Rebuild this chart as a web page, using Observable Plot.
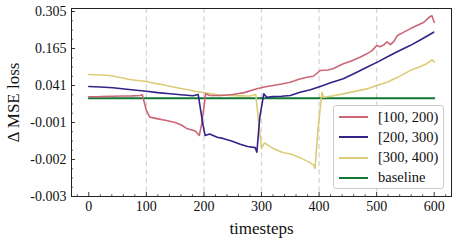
<!DOCTYPE html>
<html>
<head>
<meta charset="utf-8">
<script src="https://cdn.jsdelivr.net/npm/d3@7"></script>
<script src="https://cdn.jsdelivr.net/npm/@observablehq/plot@0.6"></script>
<style>
  body { margin: 0; background: #fff; }
  #wrap { position: relative; width: 457px; height: 242px; font-family: "Liberation Serif", "DejaVu Serif", serif; }
  #wrap svg text { font-family: "Liberation Serif", "DejaVu Serif", serif; }
  #legend { position: absolute; left: 333px; top: 105px; width: 109px; height: 82px;
    border: 1px solid #cccccc; border-radius: 3px; background: rgba(255,255,255,0.85); }
  .row { position: absolute; left: 0; height: 20px; display: flex; align-items: center; }
  .sw { width: 29px; height: 0; border-top: 2px solid; margin-left: 5px; margin-right: 10px; }
  .lbl { font-size: 14.5px; color: #111; white-space: nowrap; font-family: "Liberation Serif", "DejaVu Serif", serif; }
</style>
</head>
<body>
<div id="wrap"><div id="legend"></div></div>
<script>
// ---- data ----
const seriesNames = ["[100, 200)", "[200, 300)", "[300, 400)", "baseline"];
const seriesColors = ["#CC6677", "#332288", "#DDCC77", "#117733"];

const redSteps  = [0, 20, 42, 60, 75, 89, 93, 100, 106, 120, 135, 150, 160, 170, 185, 192, 196, 203, 210, 230, 250, 270, 292, 305, 320, 335, 350, 365, 379, 390, 402, 415, 424, 442, 455, 471, 483, 492, 500, 506, 512, 518, 524, 530, 536, 548, 558, 570, 582, 591, 596, 600];
const redValues = [0.0045, 0.005, 0.0065, 0.007, 0.0075, 0.0087, 0.011, -0.0005, -0.00078, -0.00085, -0.00092, -0.001, -0.00106, -0.00116, -0.00123, -0.00135, -0.00105, 0.0142, 0.0087, 0.0085, 0.012, 0.018, 0.0303, 0.036, 0.041, 0.046, 0.052, 0.062, 0.0688, 0.072, 0.0913, 0.093, 0.097, 0.1137, 0.122, 0.1359, 0.1472, 0.158, 0.1764, 0.172, 0.178, 0.19, 0.18, 0.192, 0.2142, 0.228, 0.2394, 0.252, 0.2644, 0.283, 0.289, 0.264];

const blueSteps  = [0, 20, 42, 70, 100, 120, 141, 160, 181, 190, 198, 202, 210, 223, 233, 248, 263, 276, 289, 292, 297, 304, 309, 320, 335, 350, 367, 385, 402, 420, 442, 462, 483, 503, 523, 540, 558, 578, 599];
const blueValues = [0.0378, 0.036, 0.0336, 0.028, 0.0226, 0.018, 0.0142, 0.011, 0.0077, 0.012, -0.00103, -0.00135, -0.00131, -0.0014, -0.00143, -0.0015, -0.00159, -0.00165, -0.00168, -0.0018, -0.00078, 0.0142, 0.0032, 0.005, 0.0065, 0.0087, 0.0194, 0.027, 0.0378, 0.05, 0.0635, 0.082, 0.1023, 0.121, 0.1415, 0.158, 0.176, 0.2, 0.2267];

const yellowSteps  = [0, 20, 36, 55, 71, 85, 100, 115, 129, 145, 158, 172, 187, 207, 225, 245, 265, 280, 290, 300, 305, 320, 337, 352, 367, 380, 390, 393, 398, 405, 408, 425, 442, 462, 483, 500, 518, 538, 558, 575, 587, 596, 600];
const yellowValues = [0.0779, 0.076, 0.0745, 0.068, 0.0611, 0.058, 0.0544, 0.048, 0.0433, 0.037, 0.0323, 0.027, 0.0216, 0.0161, 0.011, 0.0087, 0.0075, 0.0071, 0.012, -0.0017, -0.00155, -0.0017, -0.00181, -0.00186, -0.00195, -0.00205, -0.00214, -0.00224, -0.0012, 0.019, 0.003, 0.008, 0.014, 0.022, 0.030, 0.041, 0.052, 0.07, 0.091, 0.104, 0.114, 0.127, 0.12];

const baseSteps  = [0, 600];
const baseValues = [0, 0];

const xTicks = [0, 100, 200, 300, 400, 500, 600];
const xMinor = [-20, 20, 40, 60, 80, 120, 140, 160, 180, 220, 240, 260, 280, 320, 340, 360, 380, 420, 440, 460, 480, 520, 540, 560, 580, 620];
const regionMarks = [100, 200, 300, 400, 500];
const yTicks = [-0.003, -0.002, -0.001, 0.041, 0.165, 0.305];
const yTickLabels = ["-0.003", "-0.002", "-0.001", "0.041", "0.165", "0.305"];

// ---- chart ----
const W = 457, H = 242;
const mL = 71, mR = 6, mT = 8, mB = 46;
const frameW = W - mL - mR, frameH = H - mT - mB;
const FONT = "Liberation Serif, DejaVu Serif, serif";

const yOpts = {
  type: "linear",
  domain: [-0.003, -0.002, -0.001, 0, 0.041, 0.165, 0.305],
  range: [196, 159, 122, 97.7, 85, 48, 11]
};
const yScale = Plot.scale({y: yOpts});
const yMinor = [];
const tickPx = yTicks.map(v => yScale.apply(v));
for (let i = 0; i < tickPx.length - 1; i++) {
  for (let k = 1; k < 4; k++) yMinor.push(yScale.invert(tickPx[i] + (tickPx[i+1] - tickPx[i]) * k / 4));
}

const mk = (steps, vals) => steps.map((t, i) => ({t, v: vals[i]}));
const red = mk(redSteps, redValues), blue = mk(blueSteps, blueValues),
      yellow = mk(yellowSteps, yellowValues), base = mk(baseSteps, baseValues);

const labelMap = new Map(yTicks.map((v, i) => [v, yTickLabels[i]]));

const chart = Plot.plot({
  width: W, height: H,
  marginLeft: mL, marginRight: mR, marginTop: mT, marginBottom: mB,
  style: {fontFamily: FONT, fontSize: "14px", color: "#111", background: "#fff"},
  x: {domain: [-30, 630]},
  y: yOpts,
  marks: [
    Plot.ruleX(regionMarks, {x: d => d, stroke: "#d6d6d6", strokeWidth: 1.3, strokeDasharray: "5,3.5"}),
    Plot.line(base, {x: "t", y: "v", stroke: seriesColors[3], strokeWidth: 2}),
    Plot.line(yellow, {x: "t", y: "v", stroke: seriesColors[2], strokeWidth: 1.6}),
    Plot.line(red, {x: "t", y: "v", stroke: seriesColors[0], strokeWidth: 1.6}),
    Plot.line(blue, {x: "t", y: "v", stroke: seriesColors[1], strokeWidth: 1.6}),
    Plot.tickX(xTicks, {x: d => d, insetTop: frameH - 4, stroke: "#222", strokeWidth: 0.9}),
    Plot.tickX(xMinor, {x: d => d, insetTop: frameH - 2, stroke: "#222", strokeWidth: 0.7}),
    Plot.tickY(yTicks, {y: d => d, insetRight: frameW - 4, stroke: "#222", strokeWidth: 0.9}),
    Plot.tickY(yMinor, {y: d => d, insetRight: frameW - 2, stroke: "#222", strokeWidth: 0.7}),
    Plot.axisX({ticks: xTicks, tickSize: 0, tickPadding: 5, label: null, tickFormat: d => String(d), fontFamily: FONT, fontSize: 14}),
    Plot.axisY({ticks: yTicks, tickSize: 0, tickPadding: 5, label: null, tickFormat: d => labelMap.get(d), fontFamily: FONT, fontSize: 14}),
    Plot.frame({stroke: "#222", strokeWidth: 1}),
    Plot.text(["timesteps"], {text: d => d, frameAnchor: "bottom", dy: 32, fontSize: 17, fontFamily: FONT, textAnchor: "middle", lineAnchor: "middle"}),
    Plot.text(["Δ MSE loss"], {text: d => d, frameAnchor: "left", dx: -58, rotate: -90, fontSize: 17, fontFamily: FONT, textAnchor: "middle", lineAnchor: "middle"})
  ]
});
const wrap = document.getElementById("wrap");
wrap.insertBefore(chart, wrap.firstChild);

const legend = document.getElementById("legend");
seriesNames.forEach((name, i) => {
  const row = document.createElement("div");
  row.className = "row";
  row.style.top = (1 + i * 20.3) + "px";
  row.innerHTML = `<div class="sw" style="border-color:${seriesColors[i]}"></div><div class="lbl">${name}</div>`;
  legend.appendChild(row);
});
</script>
</body>
</html>
